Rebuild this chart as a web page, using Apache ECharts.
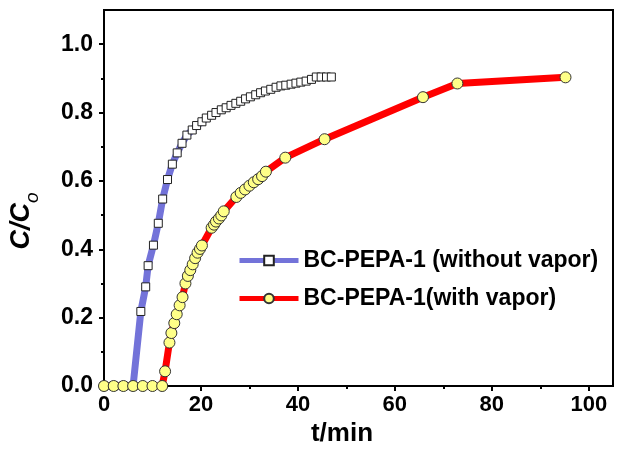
<!DOCTYPE html>
<html>
<head>
<meta charset="utf-8">
<script src="https://cdn.jsdelivr.net/npm/echarts@6.0.0/dist/echarts.min.js"></script>
<style>
  html, body { margin: 0; padding: 0; background: #fff; }
  #chart { width: 619px; height: 452px; }
</style>
</head>
<body>
<div id="chart"></div>
<script>
// BC-PEPA-1 (without vapor) - t/min, C/Co
var dryT = [0, 2, 4, 6, 7.6, 8.6, 9.1, 10.2, 11.2, 12.1, 13.1, 14.1, 15.1, 16.1, 17.1, 18.2, 19.1, 20.2, 21.1, 22.2, 23.1,
    24.2, 25.2, 26.2, 27.2, 28.2, 29.2, 30.2, 31.3, 32.3, 33.3, 34.4, 35.5, 36.5, 37.5, 38.6, 39.6, 40.6, 41.7, 42.8,
    43.8, 44.8, 45.9, 46.9];
var dryC = [0, 0, 0, 0, 0.218, 0.290, 0.352, 0.412, 0.476, 0.547, 0.604, 0.649, 0.682, 0.710, 0.734, 0.749, 0.762, 0.773, 0.784, 0.792, 0.800,
    0.808, 0.814, 0.821, 0.827, 0.833, 0.840, 0.846, 0.852, 0.858, 0.863, 0.868, 0.874, 0.878, 0.880, 0.883, 0.886, 0.889, 0.892, 0.897,
    0.904, 0.904, 0.904, 0.904];

// BC-PEPA-1 (with vapor)
var wetT = [0, 2, 4, 6, 8, 10, 12, 12.6, 13.5, 13.9, 14.5, 15.0, 15.6, 16.2, 16.8, 17.3, 17.8, 18.3, 18.8, 19.3, 19.8, 20.2,
    22.2, 22.7, 23.1, 23.7, 24.2, 24.7, 27.3, 28.2, 29.1, 30.0, 30.9, 31.8, 32.6, 33.4, 37.4, 45.5, 65.8, 72.9, 95.2];
var wetC = [0, 0, 0, 0, 0, 0, 0, 0.043, 0.127, 0.155, 0.184, 0.210, 0.236, 0.260, 0.300, 0.322, 0.339, 0.356, 0.374, 0.390, 0.401, 0.411,
    0.463, 0.472, 0.481, 0.490, 0.499, 0.511, 0.553, 0.565, 0.575, 0.586, 0.596, 0.605, 0.614, 0.627, 0.668, 0.722, 0.845, 0.885, 0.903];

var xMajor = [0, 20, 40, 60, 80, 100];
var xMinor = [10, 30, 50, 70, 90];
var yMajor = [0, 0.2, 0.4, 0.6, 0.8, 1.0];
var yMinor = [0.1, 0.3, 0.5, 0.7, 0.9];

function pairs(xs, ys) {
    var out = [];
    for (var i = 0; i < xs.length; i++) {
        out.push([xs[i], ys[i]]);
    }
    return out;
}

var chart = echarts.init(document.getElementById('chart'));
var font = 'Liberation Sans, Arial, sans-serif';

option = {
    animation: false,
    backgroundColor: '#fff',
    grid: {
        left: 104, right: 6, top: 10, bottom: 65,
        show: true, borderColor: '#000', borderWidth: 2
    },
    legend: {
        orient: 'vertical',
        left: 232,
        top: 244,
        itemWidth: 59,
        itemHeight: 12,
        itemGap: 15,
        lineStyle: { width: 5 },
        textStyle: { fontFamily: font, fontWeight: 'bold', fontSize: 23, color: '#000' },
        data: ['BC-PEPA-1 (without vapor)', 'BC-PEPA-1(with vapor)']
    },
    xAxis: [
        {
            type: 'value', min: 0, max: 105,
            name: 't/min', nameLocation: 'middle', nameGap: 35,
            nameTextStyle: { fontFamily: font, fontWeight: 'bold', fontSize: 26, color: '#000', padding: [0, 33, 0, 0] },
            axisLine: { lineStyle: { color: '#000', width: 2 } },
            axisTick: { length: 5, lineStyle: { width: 2, color: '#000' }, customValues: xMajor },
            axisLabel: { fontFamily: font, fontWeight: 'bold', fontSize: 22, color: '#000', margin: 8, customValues: xMajor },
            splitLine: { show: false }
        },
        {
            type: 'value', min: 0, max: 105, position: 'bottom',
            axisLine: { show: false },
            axisTick: { length: 3, lineStyle: { width: 2, color: '#000' }, customValues: xMinor },
            axisLabel: { show: false },
            splitLine: { show: false }
        }
    ],
    yAxis: [
        {
            type: 'value', min: 0, max: 1.1,
            name: '{a|C/C}{b|o}', nameLocation: 'middle', nameGap: 62,
            nameTextStyle: {
                padding: [0, 46, 0, 0],
                rich: {
                    a: { fontFamily: font, fontWeight: 'bold', fontStyle: 'italic', fontSize: 27, color: '#000', lineHeight: 30 },
                    b: { fontFamily: font, fontStyle: 'italic', fontSize: 19, color: '#000', lineHeight: 40, verticalAlign: 'bottom' }
                }
            },
            axisLine: { lineStyle: { color: '#000', width: 2 } },
            axisTick: { length: 5, lineStyle: { width: 2, color: '#000' }, customValues: yMajor },
            axisLabel: {
                fontFamily: font, fontWeight: 'bold', fontSize: 23, color: '#000', margin: 11,
                customValues: yMajor,
                formatter: function (v) { return v.toFixed(1); }
            },
            splitLine: { show: false }
        },
        {
            type: 'value', min: 0, max: 1.1, position: 'left',
            axisLine: { show: false },
            axisTick: { length: 3, lineStyle: { width: 2, color: '#000' }, customValues: yMinor },
            axisLabel: { show: false },
            splitLine: { show: false }
        }
    ],
    series: [
        {
            name: 'BC-PEPA-1 (without vapor)',
            type: 'line',
            data: pairs(dryT, dryC),
            symbol: 'rect',
            symbolSize: 8,
            showAllSymbol: true,
            lineStyle: { color: '#7373d9', width: 7 },
            itemStyle: { color: '#fff', borderColor: '#222', borderWidth: 1 }
        },
        {
            name: 'BC-PEPA-1(with vapor)',
            type: 'line',
            data: pairs(wetT, wetC),
            symbol: 'circle',
            symbolSize: 11,
            showAllSymbol: true,
            lineStyle: { color: '#ff0000', width: 7 },
            itemStyle: { color: '#ffff88', borderColor: '#333', borderWidth: 1 }
        }
    ]
};

chart.setOption(option);
</script>
</body>
</html>
